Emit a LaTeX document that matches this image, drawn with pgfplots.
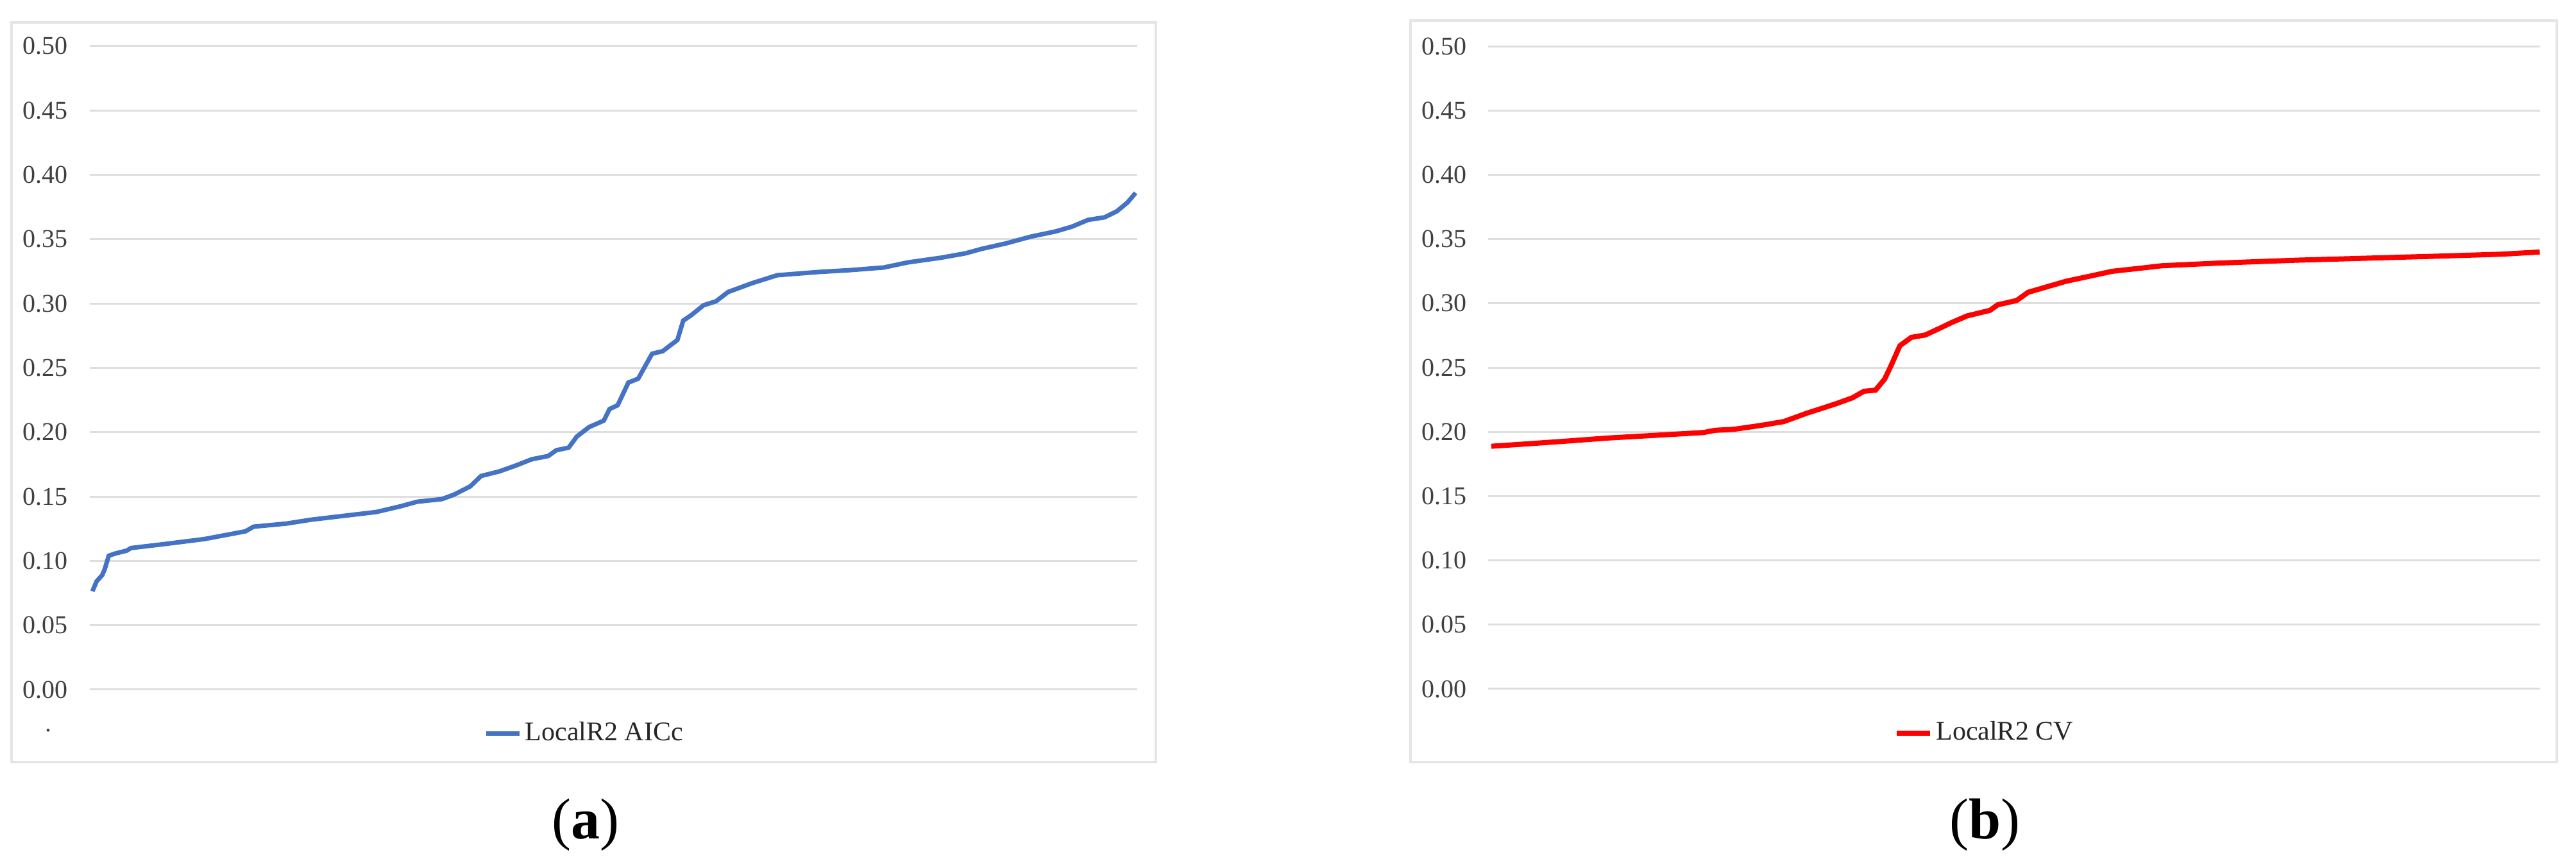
\documentclass[border=0pt]{standalone}
\usepackage{fontspec}
\setmainfont{Liberation Serif}
\usepackage{pgfplots}
\pgfplotsset{compat=1.18}
\definecolor{blueline}{HTML}{4472C4}
\definecolor{redline}{HTML}{FF0000}
\definecolor{ticktext}{HTML}{404040}
\pgfplotsset{
  panel/.style={
    scale only axis,
    xmin=-4, xmax=1629,
    ymin=0, ymax=0.5,
    axis line style={draw=none},
    tick style={draw=none},
    major tick length=0pt,
    xtick=\empty,
    ytick={0,0.05,...,0.5},
    ymajorgrids,
    grid style={black!13, line width=0.6pt},
    yticklabel style={font=\fontsize{8}{9}\selectfont, text=ticktext, anchor=east, inner sep=0pt, xshift=-6.6pt},
    /pgf/number format/assume math mode=true,
    /pgf/number format/.cd, fixed, fixed zerofill, precision=2,
    /pgfplots/.cd,
    legend style={draw=none, fill=none, anchor=center, inner sep=0pt,
      font=\fontsize{8.4}{9}\selectfont, text=black!85,
      nodes={inner sep=1pt}},
  }
}
\begin{document}
\begin{tikzpicture}
\useasboundingbox (0pt,0pt) rectangle (803.2pt,270pt);
% frames
\draw[black!10, line width=0.8pt] (3.6pt,32.4pt) rectangle (360.4pt,263pt);
\draw[black!10, line width=0.8pt] (439.8pt,32.4pt) rectangle (797.2pt,263.6pt);
\node[anchor=base, font=\fontsize{8}{9}\selectfont, text=ticktext, inner sep=0pt] at (15pt,41.8pt) {.};
% panel (a)
\begin{axis}[panel, at={(28pt,55pt)}, anchor=south west,
  width=326.6pt, height=200.6pt,
  legend style={at={(0.473,-0.068)}},
  legend image code/.code={\draw[#1] (0pt,0pt) -- (10.4pt,0pt);}]
\addplot[blueline, line width=1.4pt] coordinates {
(0.1,0.0764) (6.5,0.084) (15.4,0.089) (19.3,0.0936) (25.6,0.104) (34.6,0.1056)
(53.7,0.108) (60.1,0.110) (111.1,0.113) (174.9,0.117) (238.7,0.123) (251.4,0.1266)
(302.4,0.129) (340.7,0.132) (391.7,0.135) (442.7,0.138) (481,0.1425) (506.5,0.146)
(544.8,0.148) (563.9,0.1515) (589.4,0.158) (606,0.166) (634.1,0.1695) (659.6,0.174)
(685.1,0.179) (710.6,0.1815) (723.3,0.186) (742.5,0.188) (755.2,0.1966) (774.4,0.204)
(797.3,0.209) (806.3,0.218) (819,0.221) (835.6,0.2386) (850.9,0.2416) (872.6,0.261)
(889.2,0.263) (912.1,0.2717) (921.1,0.2867) (933.8,0.291) (952.9,0.2987) (972.1,0.3017)
(991.2,0.309) (1029.5,0.316) (1067.7,0.322) (1131.5,0.3245) (1182.5,0.326) (1208,0.327)
(1233.6,0.328) (1271.8,0.332) (1322.8,0.3356) (1361.1,0.339) (1386.6,0.3425) (1424.9,0.3468)
(1463.1,0.352) (1501.4,0.356) (1526.9,0.3597) (1552.4,0.365) (1578,0.367) (1597.1,0.3717)
(1613.7,0.3785) (1626.4,0.386)
};
\addlegendentry{LocalR2 AICc}
\end{axis}
% panel (b)
\begin{axis}[panel, at={(464pt,55.2pt)}, anchor=south west,
  width=328pt, height=200.4pt,
  xmin=-5, xmax=1635,
  legend style={at={(0.4726,-0.069)}},
  legend image code/.code={\draw[#1] (0pt,0pt) -- (10.4pt,0pt);}]
\addplot[redline, line width=1.6pt] coordinates {
(0,0.1888) (63.1,0.1909) (122.6,0.193) (182.1,0.1952) (241.7,0.1969) (301.2,0.1986)
(331,0.1995) (348.8,0.2012) (378.6,0.202) (420.2,0.205) (456,0.208) (491.7,0.2145)
(515.5,0.2183) (539.3,0.2222) (563.1,0.2265) (581,0.2316) (598.8,0.2324) (613.1,0.241)
(622.6,0.2509) (636.9,0.267) (654.8,0.2735) (676.2,0.2753) (700,0.2808) (717.9,0.2851)
(741.7,0.2902) (777.4,0.2945) (789.3,0.2988) (819,0.3022) (836.9,0.3086) (866.7,0.3129)
(896.4,0.3172) (932.1,0.321) (967.9,0.3249) (1015.5,0.3275) (1045.2,0.3292) (1134.5,0.3313)
(1253.6,0.3335) (1372.6,0.3352) (1491.7,0.3369) (1575,0.3382) (1634.5,0.3399)
};
\addlegendentry{LocalR2 CV}
\end{axis}
% sub-figure labels
\node[anchor=base, inner sep=0pt, font=\fontsize{18}{20}\selectfont] at (182.5pt,8.4pt) {(\textbf{a})};
\node[anchor=base, inner sep=0pt, font=\fontsize{18}{20}\selectfont] at (618.8pt,8.4pt) {(\textbf{b})};
\end{tikzpicture}
\end{document}
